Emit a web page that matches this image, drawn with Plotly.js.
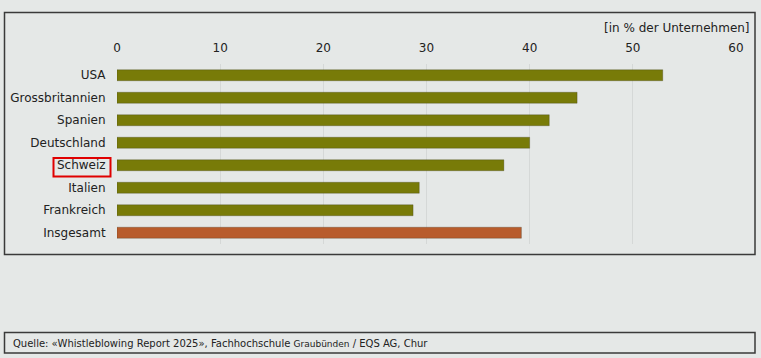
<!DOCTYPE html>
<html>
<head>
<meta charset="utf-8">
<script src="https://cdn.plot.ly/plotly-3.0.1.min.js"></script>
<style>
html,body{margin:0;padding:0;background:#e5e8e7;}
#chart{width:761px;height:358px;}
</style>
</head>
<body>
<div id="chart"></div>
<script>
const categories = ['USA','Grossbritannien','Spanien','Deutschland','Schweiz','Italien','Frankreich','Insgesamt'];
const values = [52.9, 44.6, 41.9, 40.0, 37.5, 29.3, 28.7, 39.2];
const tickValues = [0, 10, 20, 30, 40, 50, 60];
const unitLabel = '[in % der Unternehmen]';
const highlighted = 'Schweiz';
const totalCategory = 'Insgesamt';
const sourceText = 'Quelle: «Whistleblowing Report 2025», Fachhochschule <span style="font-size:9px">Graubünden</span> / EQS AG, Chur';

const W = 761, H = 358;
const M = {l:117, r:25, t:64, b:114};
const pw = W - M.l - M.r, ph = H - M.t - M.b;
const px = x => (x - M.l) / pw;
const py = y => (H - M.b - y) / ph;

const olive = '#787b08', orange = '#b85c2c';
const colors = categories.map(c => c === totalCategory ? orange : olive);
const font = 'DejaVu Sans, Verdana, sans-serif';

const trace = {
  type: 'bar', orientation: 'h',
  x: values, y: categories,
  width: 0.49,
  marker: {color: colors, line: {color: 'rgba(40,40,20,0.25)', width: 1}},
  hoverinfo: 'none'
};

const layout = {
  width: W, height: H,
  margin: M,
  paper_bgcolor: '#e5e8e7', plot_bgcolor: '#e5e8e7',
  font: {family: font, size: 12, color: '#222'},
  showlegend: false,
  bargap: 0.5,
  xaxis: {
    side: 'top', range: [0, 60], tickvals: tickValues,
    showgrid: true, gridcolor: '#d5d8d7', gridwidth: 1,
    zeroline: false, showline: false,
    ticks: 'outside', ticklen: 6, tickcolor: 'rgba(0,0,0,0)',
    tickfont: {family: font, size: 12, color: '#222'},
    fixedrange: true
  },
  yaxis: {
    autorange: 'reversed', type: 'category',
    showgrid: false, zeroline: false, showline: false,
    ticks: 'outside', ticklen: 8, tickcolor: 'rgba(0,0,0,0)',
    tickfont: {family: font, size: 12, color: '#222'},
    fixedrange: true
  },
  shapes: [
    {type: 'rect', xref: 'paper', yref: 'paper', x0: px(4.5), x1: px(755), y0: py(12.5), y1: py(254.5),
     line: {color: '#3a3a3a', width: 1.5}, fillcolor: 'rgba(0,0,0,0)'},
    {type: 'rect', xref: 'paper', yref: 'paper', x0: px(4.5), x1: px(755), y0: py(332.5), y1: py(353),
     line: {color: '#3a3a3a', width: 1.5}, fillcolor: 'rgba(0,0,0,0)'},
    {type: 'rect', xref: 'paper', yref: 'paper', x0: px(53.5), x1: px(110.5), y0: py(158), y1: py(176.5),
     line: {color: '#e00000', width: 2}, fillcolor: 'rgba(0,0,0,0)'}
  ],
  annotations: [
    {xref: 'paper', yref: 'paper', x: px(752), y: py(28), xanchor: 'right', yanchor: 'middle',
     text: unitLabel, showarrow: false, font: {family: font, size: 12, color: '#222'}},
    {xref: 'paper', yref: 'paper', x: px(11), y: py(343), xanchor: 'left', yanchor: 'middle',
     text: sourceText, showarrow: false, font: {family: font, size: 10, color: '#222'}}
  ]
};

Plotly.newPlot('chart', [trace], layout, {displayModeBar: false, staticPlot: true});
</script>
</body>
</html>
